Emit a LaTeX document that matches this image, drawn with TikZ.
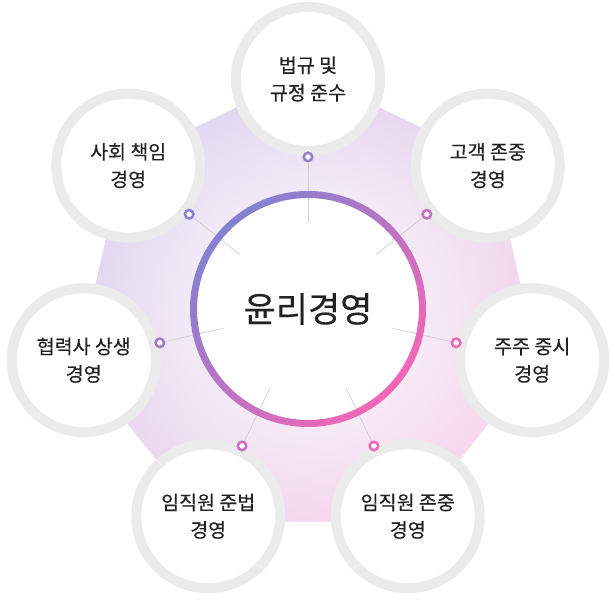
\documentclass[tikz,border=0pt]{standalone}
\usepackage{fontspec}
\setmainfont{Noto Sans CJK KR}[FakeBold=0.35]
\usetikzlibrary{calc,fadings}

\definecolor{ringblue}{HTML}{8481D1}
\definecolor{ringpink}{HTML}{F466B6}
\definecolor{bglav}{HTML}{CFC6EC}
\definecolor{bgpink}{HTML}{F6C4E4}
\definecolor{rimgray}{HTML}{EBEBEB}
\definecolor{spokegray}{HTML}{D0D0D0}
\definecolor{txt}{HTML}{222222}

\tikzfading[name=glow, inner color=transparent!0, outer color=transparent!100]

\begin{document}
\begin{tikzpicture}[
		x=1pt, y=1pt,
		every node/.style={
			font=\fontsize{19.5}{27.5}\selectfont,
			text=txt,
			align=center,
			inner sep=0pt
		},
		item/.style={circle, draw=rimgray, line width=10pt, fill=white, minimum size=144pt},
		hub/.style={circle, fill=white, minimum size=222pt, font=\fontsize{35}{40}\selectfont},
		dot/.style={circle, draw=#1, line width=2.5pt, fill=white, minimum size=8.5pt},
		spoke/.style={draw=spokegray, line width=0.7pt}
		]
		
		\useasboundingbox (0,0) rectangle (615,601);
		\coordinate (o) at (308,292);
		
		%--------------------------------------------------
		% Background
		%--------------------------------------------------
		
		\begin{scope}[shift={(o)}]
			\path[clip] (90:236) -- (141.43:236) -- (192.86:236) -- (244.29:236)
			-- (295.71:236) -- (347.14:236) -- (38.57:236) -- cycle;
			\shade[top color=bglav, bottom color=bgpink, shading angle=45]
			(-240,-240) rectangle (240,240);
			\fill[white, path fading=glow, fit fading=true] (0,0) circle (320);
		\end{scope}
		
		%--------------------------------------------------
		% Centre
		%--------------------------------------------------
		
		\node[hub] (hub) at (o) {윤리경영};
		
		%--------------------------------------------------
		% Items
		%--------------------------------------------------
		
		\foreach \a/\n/\t in {
			90/law/{법규 및\\규정 준수},
			38.57/cust/{고객 존중\\경영},
			-12.86/holder/{주주 중시\\경영},
			-64.29/staff/{임직원 존중\\경영},
			-115.71/comply/{임직원 준법\\경영},
			-167.14/partner/{협력사 상생\\경영},
			141.43/social/{사회 책임\\경영}}
		{
			\pgfmathsetmacro\p{int(50+50*(sin(\a)-cos(\a))/sqrt(2))}
			\colorlet{dotc}{ringblue!\p!ringpink}
			\node[item] (\n) at ($(o)+(\a:230)$) {\t};
			\node[dot=dotc] (d-\n) at ($(o)+(\a:152)$) {};
			\coordinate (s-\n) at ($(o)+(\a:87)$);
			\draw[spoke] (s-\n) -- (d-\n);
		}
		
		% gradient ring
		\shade[top color=ringblue, bottom color=ringpink, shading angle=45, even odd rule]
		(o) circle (118) (o) circle (111);
		
	\end{tikzpicture}
\end{document}
